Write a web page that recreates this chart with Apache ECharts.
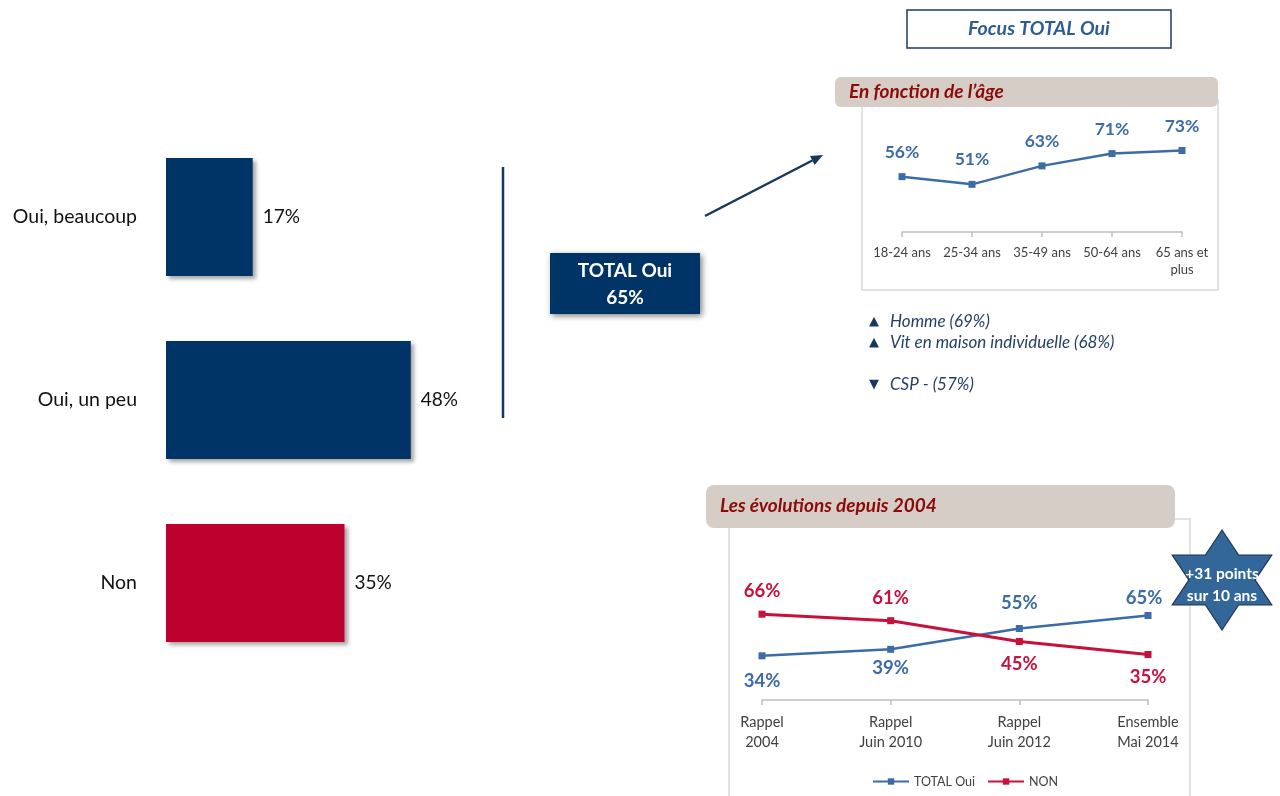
<!DOCTYPE html>
<html>
<head>
<meta charset="utf-8">
<script src="https://cdn.jsdelivr.net/npm/echarts@6/dist/echarts.min.js"></script>
<style>
  html, body { margin: 0; padding: 0; background: #fff; }
  #main { width: 1280px; height: 796px; }
</style>
</head>
<body>
<div id="main"></div>
<script>
  // data
  var barCategories = ['Oui, beaucoup', 'Oui, un peu', 'Non'];
  var barValues = [17, 48, 35];

  var ageCategories = ['18-24 ans', '25-34 ans', '35-49 ans', '50-64 ans', '65 ans et\nplus'];
  var ageValues = [56, 51, 63, 71, 73];

  var evoCategories = ['Rappel\n2004', 'Rappel\nJuin 2010', 'Rappel\nJuin 2012', 'Ensemble\nMai 2014'];
  var evoOui = [34, 39, 55, 65];
  var evoNon = [66, 61, 45, 35];

  var profileLines = [
    { sign: '▲', text: 'Homme (69%)' },
    { sign: '▲', text: 'Vit en maison individuelle (68%)' },
    { sign: '▼', text: 'CSP - (57%)' }
  ];

  var NAVY = '#003366';
  var RED = '#BE002F';
  var BLUE = '#3B6CA5';
  var CRIMSON = '#C8103C';
  var DARKRED = '#8C0A0A';
  var HEAD = '#D6CEC6';
  var FONT = 'Lato';

  var myChart = echarts.init(document.getElementById('main'));

  // six-pointed star
  function starPoints(cx, cy, R, sx) {
    var pts = [];
    var r = R / Math.sqrt(3);
    for (var i = 0; i < 12; i++) {
      var a = (-90 + i * 30) * Math.PI / 180;
      var rad = i % 2 === 0 ? R : r;
      pts.push([cx + Math.cos(a) * rad * sx, cy + Math.sin(a) * rad]);
    }
    return pts;
  }

  var profileGraphics = [];
  var profileY = [322, 343, 385];
  profileLines.forEach(function (p, i) {
    profileGraphics.push({
      type: 'text', x: 874, y: profileY[i],
      style: { text: p.sign, fill: '#17375E', font: '13px DejaVu Sans', align: 'center', verticalAlign: 'middle' }
    });
    profileGraphics.push({
      type: 'text', x: 890, y: profileY[i],
      style: { text: p.text, fill: '#243F66', font: 'italic 17px ' + FONT, verticalAlign: 'middle' }
    });
  });

  // arrow
  var tip = [823, 155], tail = [705, 216];
  var dx = tip[0] - tail[0], dy = tip[1] - tail[1];
  var len = Math.sqrt(dx * dx + dy * dy);
  var ux = dx / len, uy = dy / len;
  var base = [tip[0] - 12 * ux, tip[1] - 12 * uy];

  var evoOuiData = evoOui.map(function (v, i) {
    return { value: v, label: { position: i < 2 ? 'bottom' : 'top', distance: i === 1 ? 6 : (i === 3 ? 4 : 12), offset: i === 3 ? [-4, 0] : [0, 0] } };
  });
  var evoNonData = evoNon.map(function (v, i) {
    return { value: v, label: { position: i < 2 ? 'top' : 'bottom', distance: 10 } };
  });

  myChart.setOption({
    animation: false,
    textStyle: { fontFamily: FONT },
    grid: [
      { left: 166, top: 125.5, width: 510, height: 549 },
      { left: 902, right: 98, top: 109, bottom: 564 },
      { left: 762, right: 132, top: 570, bottom: 96 }
    ],
    xAxis: [
      { gridIndex: 0, type: 'value', min: 0, max: 100, show: false },
      {
        gridIndex: 1, type: 'category', data: ageCategories, boundaryGap: false,
        axisLine: { lineStyle: { color: '#BFBFBF', width: 1.5 } },
        axisTick: { alignWithLabel: true, length: 5, lineStyle: { color: '#BFBFBF', width: 1.5 } },
        axisLabel: { color: '#404040', fontSize: 13, lineHeight: 17, margin: 12, interval: 0 }
      },
      {
        gridIndex: 2, type: 'category', data: evoCategories, boundaryGap: false,
        axisLine: { lineStyle: { color: '#BFBFBF', width: 1.5 } },
        axisTick: { length: 5, lineStyle: { color: '#BFBFBF', width: 1.5 } },
        axisLabel: { color: '#404040', fontSize: 14.5, lineHeight: 20, margin: 12, interval: 0 }
      }
    ],
    yAxis: [
      {
        gridIndex: 0, type: 'category', data: barCategories, inverse: true,
        axisLine: { show: false }, axisTick: { show: false },
        axisLabel: { color: '#111', fontSize: 19.5, margin: 29 }
      },
      { gridIndex: 1, type: 'value', min: 20, max: 100, show: false },
      { gridIndex: 2, type: 'value', min: 0, max: 100, show: false }
    ],
    legend: {
      data: ['TOTAL Oui', 'NON'],
      left: 867, top: 770,
      itemWidth: 36, itemHeight: 8, itemGap: 12,
      textStyle: { color: '#404040', fontSize: 12.5, fontFamily: FONT }
    },
    series: [
      {
        type: 'bar', xAxisIndex: 0, yAxisIndex: 0, data: barValues,
        barWidth: 118,
        itemStyle: {
          color: function (p) { return p.dataIndex === 2 ? RED : NAVY; },
          shadowBlur: 4, shadowOffsetX: 3, shadowOffsetY: 3, shadowColor: 'rgba(0,0,0,0.35)'
        },
        label: { show: true, position: 'right', distance: 10, formatter: '{c}%', color: '#111', fontSize: 19 }
      },
      {
        name: 'Âge', type: 'line', xAxisIndex: 1, yAxisIndex: 1, data: ageValues,
        symbol: 'rect', symbolSize: 7,
        lineStyle: { color: BLUE, width: 2.5 }, itemStyle: { color: BLUE },
        label: { show: true, position: 'top', distance: 12, formatter: '{c}%', color: BLUE, fontSize: 17.5, fontWeight: 'bold' }
      },
      {
        name: 'TOTAL Oui', type: 'line', xAxisIndex: 2, yAxisIndex: 2, data: evoOuiData,
        symbol: 'rect', symbolSize: 7,
        lineStyle: { color: BLUE, width: 2.5 }, itemStyle: { color: BLUE },
        label: { show: true, formatter: '{c}%', color: BLUE, fontSize: 18.5, fontWeight: 'bold' }
      },
      {
        name: 'NON', type: 'line', xAxisIndex: 2, yAxisIndex: 2, data: evoNonData,
        symbol: 'rect', symbolSize: 7,
        lineStyle: { color: CRIMSON, width: 3 }, itemStyle: { color: CRIMSON },
        label: { show: true, formatter: '{c}%', color: CRIMSON, fontSize: 18.5, fontWeight: 'bold' }
      }
    ],
    graphic: [
      // separator
      { type: 'line', shape: { x1: 503, y1: 167, x2: 503, y2: 418 }, style: { stroke: '#17375E', lineWidth: 2.5 } },
      // TOTAL Oui box
      {
        type: 'rect', shape: { x: 550, y: 253, width: 150, height: 61 },
        style: { fill: NAVY, shadowBlur: 6, shadowOffsetX: 2, shadowOffsetY: 2, shadowColor: 'rgba(0,0,0,0.5)' }
      },
      {
        type: 'text', x: 625, y: 284,
        style: { text: 'TOTAL Oui\n65%', fill: '#fff', font: 'bold 19px ' + FONT, align: 'center', verticalAlign: 'middle', lineHeight: 27 }
      },
      // arrow
      { type: 'line', shape: { x1: tail[0], y1: tail[1], x2: base[0], y2: base[1] }, style: { stroke: '#17375E', lineWidth: 2.5 } },
      {
        type: 'polygon',
        shape: { points: [tip, [base[0] + 5 * -uy, base[1] + 5 * ux], [base[0] - 5 * -uy, base[1] - 5 * ux]] },
        style: { fill: '#17375E' }
      },
      // focus title
      { type: 'rect', shape: { x: 907, y: 10, width: 264, height: 38 }, style: { fill: '#fff', stroke: '#1F3864', lineWidth: 1.5 } },
      {
        type: 'text', x: 1039, y: 29,
        style: { text: 'Focus TOTAL Oui', fill: '#2E5C92', font: 'italic bold 19.5px ' + FONT, align: 'center', verticalAlign: 'middle' }
      },
      // age panel
      { type: 'rect', shape: { x: 862, y: 100, width: 356, height: 190 }, style: { fill: 'none', stroke: '#D9D9D9', lineWidth: 1.5 } },
      { type: 'rect', shape: { x: 835, y: 77, width: 383, height: 30, r: 6 }, style: { fill: HEAD } },
      {
        type: 'text', x: 849, y: 92,
        style: { text: 'En fonction de l\u2019âge', fill: DARKRED, font: 'italic bold 19px ' + FONT, verticalAlign: 'middle' }
      },
      // evolution panel
      { type: 'rect', shape: { x: 729, y: 519, width: 461, height: 290 }, style: { fill: 'none', stroke: '#D9D9D9', lineWidth: 1.5 } },
      { type: 'rect', shape: { x: 706, y: 485, width: 469, height: 43, r: 8 }, style: { fill: HEAD } },
      {
        type: 'text', x: 720, y: 506,
        style: { text: 'Les évolutions depuis 2004', fill: DARKRED, font: 'italic bold 19px ' + FONT, verticalAlign: 'middle' }
      },
      // star
      { type: 'polygon', shape: { points: starPoints(1222, 580, 50, 1.15) }, style: { fill: '#336699', stroke: '#1F3350', lineWidth: 1.2 } },
      {
        type: 'text', x: 1222, y: 585,
        style: { text: '+31 points\nsur 10 ans', fill: '#fff', font: 'bold 15.5px ' + FONT, align: 'center', verticalAlign: 'middle', lineHeight: 22 }
      }
    ].concat(profileGraphics)
  });
</script>
</body>
</html>
